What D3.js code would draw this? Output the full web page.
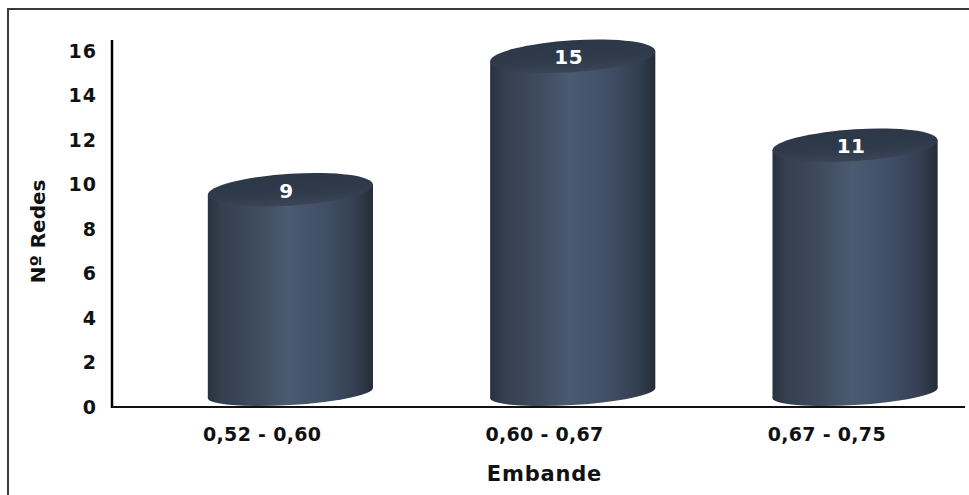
<!DOCTYPE html>
<html><head><meta charset="utf-8">
<script src="https://cdn.jsdelivr.net/npm/d3@7"></script>
<style>html,body{margin:0;padding:0;background:#fff;}svg{display:block;}</style>
</head><body>
<svg id="c" width="969" height="495"></svg>
<script>
const categories = ["0,52 - 0,60", "0,60 - 0,67", "0,67 - 0,75"];
const values = [9, 15, 11];
const yTicks = [0, 2, 4, 6, 8, 10, 12, 14, 16];
const yTitle = "Nº Redes";
const xTitle = "Embande";

const svg = d3.select("#c");
const font = "'DejaVu Sans', Verdana, sans-serif";

// frame (top & left)
svg.append("path").attr("d", "M8,495 L8,9 L969,9").attr("fill", "none")
  .attr("stroke", "#3a3a3a").attr("stroke-width", 2);

const x = d3.scaleBand().domain(categories).range([121, 968]).padding(0);
const y = d3.scaleLinear().domain([0, 16]).range([407, 51]);
const axisX = 112;

const defs = svg.append("defs");
const g1 = defs.append("linearGradient").attr("id", "body").attr("x1", "0").attr("x2", "1").attr("y1", "0").attr("y2", "0");
[[0, "#28313f"], [0.08, "#34404f"], [0.3, "#3f4b5f"], [0.48, "#4b5a70"], [0.7, "#425067"], [0.9, "#333e50"], [1, "#242c37"]]
  .forEach(([o, c]) => g1.append("stop").attr("offset", o).attr("stop-color", c));
const g2 = defs.append("linearGradient").attr("id", "top").attr("x1", "0").attr("x2", "0").attr("y1", "0").attr("y2", "1");
[[0, "#2c3747"], [0.6, "#2f3a4b"], [1, "#3a4658"]]
  .forEach(([o, c]) => g2.append("stop").attr("offset", o).attr("stop-color", c));

// cylinders
const bw = x.bandwidth() * 0.585;
const off = x.bandwidth() * 0.1;
const skew = -3.5;
const ryTop = 16, ryBot = 12;
categories.forEach((cat, i) => {
  const cx = x(cat) + x.bandwidth() / 2 + off;
  const x0 = cx - bw / 2;
  const cyT = y(values[i]) - 17;
  const cyB = y(0) - 14;
  const g = svg.append("g").attr("transform", `translate(${cx},0) skewY(${skew}) translate(${-cx},0)`);
  g.append("rect").attr("x", x0).attr("y", cyT).attr("width", bw).attr("height", cyB - cyT).attr("fill", "url(#body)");
  g.append("ellipse").attr("cx", cx).attr("cy", cyB).attr("rx", bw / 2).attr("ry", ryBot).attr("fill", "url(#body)");
  g.append("ellipse").attr("cx", cx).attr("cy", cyT).attr("rx", bw / 2).attr("ry", ryTop).attr("fill", "url(#top)");
  svg.append("text").attr("x", cx - 4).attr("y", cyT + 8).attr("text-anchor", "middle")
    .attr("font-family", font).attr("font-weight", "bold").attr("font-size", 20).attr("fill", "#fff")
    .attr("letter-spacing", 0.5).text(values[i]);
});

// axes lines
svg.append("line").attr("x1", axisX).attr("x2", axisX).attr("y1", y(16.5)).attr("y2", y(0) + 1)
  .attr("stroke", "#000").attr("stroke-width", 2.5);
svg.append("line").attr("x1", axisX).attr("x2", 965).attr("y1", y(0)).attr("y2", y(0))
  .attr("stroke", "#111").attr("stroke-width", 2);

// y tick labels
const yAxis = svg.append("g").attr("transform", `translate(${axisX},0)`)
  .call(d3.axisLeft(y).tickValues(yTicks).tickSize(0).tickPadding(15));
yAxis.select(".domain").remove();
yAxis.selectAll("text").attr("font-family", font).attr("font-weight", "bold").attr("font-size", 19)
  .attr("letter-spacing", 1).attr("fill", "#111");

// x tick labels
const xAxis = svg.append("g").attr("transform", `translate(0,${y(0)})`)
  .call(d3.axisBottom(x).tickSize(0).tickPadding(21));
xAxis.select(".domain").remove();
xAxis.selectAll("text").attr("font-family", font).attr("font-weight", "bold").attr("font-size", 19)
  .attr("letter-spacing", 0.3).attr("fill", "#111");

// titles
svg.append("text").attr("transform", `translate(45,${(y(16.5) + y(0)) / 2 + 8}) rotate(-90)`)
  .attr("text-anchor", "middle").attr("font-family", font).attr("font-weight", "bold").attr("font-size", 20).attr("fill", "#111")
  .text(yTitle);
svg.append("text").attr("x", x(categories[1]) + x.bandwidth() / 2).attr("y", 481).attr("text-anchor", "middle")
  .attr("font-family", font).attr("font-weight", "bold").attr("font-size", 21).attr("letter-spacing", 0.8).attr("fill", "#111")
  .text(xTitle);
</script>
</body></html>
